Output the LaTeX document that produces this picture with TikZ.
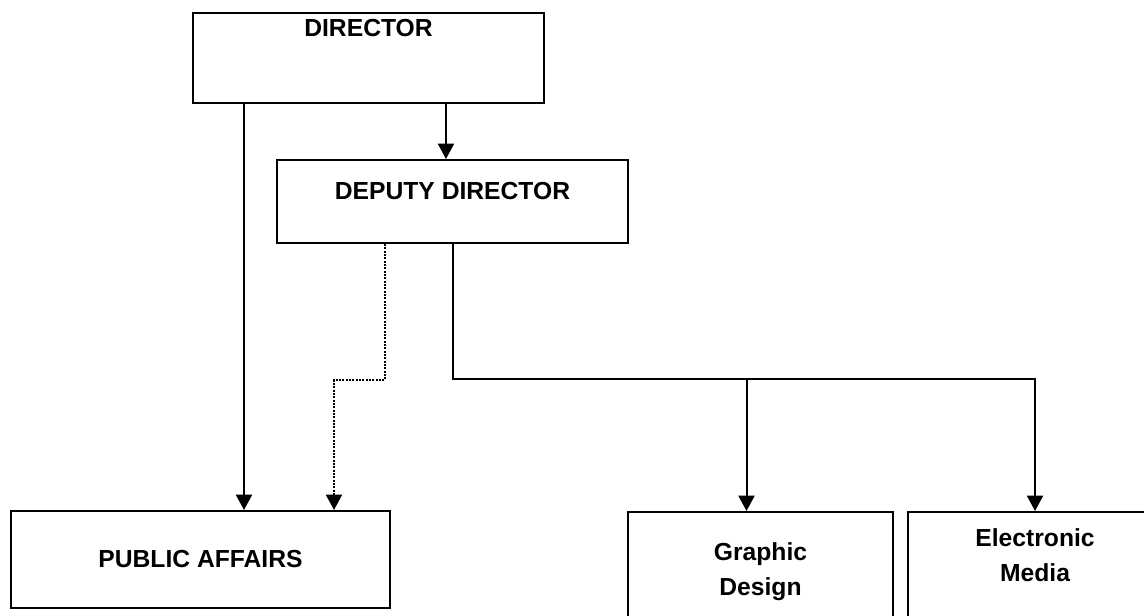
\documentclass[tikz,border=0pt]{standalone}
\usepackage{fontspec}
\setmainfont{Liberation Sans}
\usetikzlibrary{arrows.meta}

\begin{document}
\begin{tikzpicture}[x = .75pt, y = -.75pt,
    unit/.style = {draw, line width = 1.5pt, inner sep = 0pt, align = center,
      font = \fontsize{18.5}{26}\selectfont\bfseries},
    title/.style = {inner sep = 0pt, font = \fontsize{18.5}{26}\selectfont\bfseries, align = center},
    link/.style = {line width = 1.5pt},
    arr/.style = {link, -{Triangle[width = 12pt, length = 11.5pt]}}]
  \clip (0, 0) rectangle (1144, 616);
  \fill[white] (0, 0) rectangle (1144, 616);

  % boxes
  \node[unit, minimum width = 263.25pt, minimum height = 67.5pt] (director) at (368.5, 58) {};
  \node[title] (directortext) at ([yshift = -12pt]director.north) {DIRECTOR};
  \node[unit, minimum width = 263.25pt, minimum height = 62.25pt] (deputy) at (452.5, 201.5) {};
  \node[title] (deputytext) at ([yshift = -24pt]deputy.north) {DEPUTY DIRECTOR};
  \node[unit, minimum width = 284.25pt, minimum height = 72.75pt] (public) at (200.5, 559.5) {PUBLIC AFFAIRS};
  \node[unit, minimum width = 198.75pt, minimum height = 90pt] (graphic) at (760.5, 572) {Graphic\\Design};
  \node[unit, minimum width = 190.5pt, minimum height = 90pt] (electronic) at (1035, 572) {};
  \node[title] (electronictext) at ([yshift = -33pt]electronic.north) {Electronic\\Media};

  % lines of report
  \draw[arr] ([xshift = 39pt]director.south west) -- ([xshift = 39pt]director.south west |- public.north);
  \draw[arr] ([xshift = -4.9pt]deputy.north |- director.south) -- ([xshift = -4.9pt]deputy.north);
  \draw[arr, densely dotted, line width = 1.3pt] ([xshift = 81.75pt]deputy.south west) -- ++(0, 136)
    -| ([xshift = 243pt]public.north west);
  \draw[arr] (deputy.south) -- ++(0, 135) coordinate (bus) -| (electronic.north);
  \draw[arr] ([xshift = -10.5pt]graphic.north |- bus) -- ([xshift = -10.5pt]graphic.north);
\end{tikzpicture}
\end{document}
